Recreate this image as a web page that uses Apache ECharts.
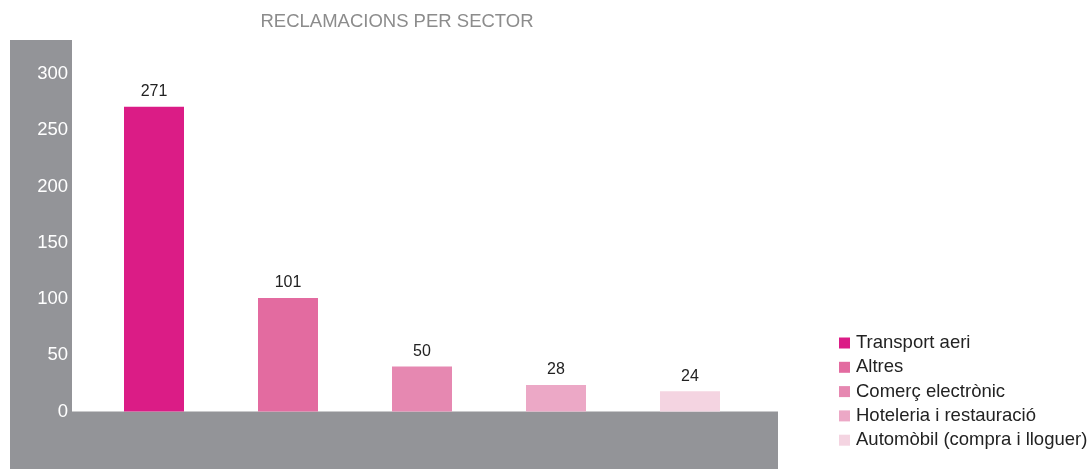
<!DOCTYPE html>
<html>
<head>
<meta charset="utf-8">
<script src="https://cdn.jsdelivr.net/npm/echarts@6/dist/echarts.min.js"></script>
<style>
html,body{margin:0;padding:0;background:#fff;}
#chart{width:1091px;height:469px;}
</style>
</head>
<body>
<div id="chart"></div>
<script>
// Data
const categories = ['Transport aeri', 'Altres', 'Comerç electrònic', 'Hoteleria i restauració', 'Automòbil (compra i lloguer)'];
const barHeights = [271, 101, 40, 23.5, 18];      // drawn bar heights
const labelTexts = ['271', '101', '50', '28', '24']; // printed labels
const colors = ['#DB1C86', '#E36BA0', '#E688B1', '#ECA8C6', '#F4D4E1'];
const yTicks = [0, 50, 100, 150, 200, 250, 300];
const title = 'RECLAMACIONS PER SECTOR';

const chart = echarts.init(document.getElementById('chart'));
const FONT = '"Liberation Sans", Arial, Helvetica, sans-serif';

const series = categories.map((name, i) => ({
  name: name,
  type: 'bar',
  barWidth: 60,
  barGap: '-100%',
  z: 5,
  itemStyle: { color: colors[i] },
  label: {
    show: true,
    position: 'top',
    distance: 7,
    color: '#222',
    fontSize: 16,
    fontFamily: FONT,
    formatter: () => labelTexts[i]
  },
  data: categories.map((c, j) => (j === i ? barHeights[i] : null))
}));

chart.setOption({
  animation: false,
  backgroundColor: '#fff',
  title: {
    text: title,
    left: 392,
    textAlign: 'center',
    top: 7,
    textStyle: { color: '#8c8c8c', fontSize: 18.5, fontWeight: 'normal', fontFamily: FONT }
  },
  graphic: [
    { type: 'rect', z: -10, silent: true, shape: { x: 10, y: 40, width: 62, height: 429 }, style: { fill: '#939498' } },
    { type: 'rect', z: -10, silent: true, shape: { x: 10, y: 411.5, width: 768, height: 58 }, style: { fill: '#939498' } }
  ],
  legend: {
    orient: 'vertical',
    left: 839,
    top: 333.5,
    padding: 0,
    itemWidth: 11,
    itemHeight: 11,
    itemGap: 5.3,
    icon: 'rect',
    textStyle: { color: '#222', fontSize: 18.5, lineHeight: 19, fontFamily: FONT, padding: [0, 0, 0, 1] },
    data: categories
  },
  grid: { left: 87, right: 334, top: 74, bottom: 57.5, containLabel: false },
  xAxis: {
    type: 'category',
    data: categories,
    axisLine: { show: false },
    axisTick: { show: false },
    axisLabel: { show: false }
  },
  yAxis: {
    type: 'value',
    min: yTicks[0],
    max: yTicks[yTicks.length - 1],
    interval: 50,
    axisLine: { show: false },
    axisTick: { show: false },
    splitLine: { show: false },
    axisLabel: { color: '#fff', fontSize: 18.5, fontFamily: FONT, margin: 19 }
  },
  series: series
});
</script>
</body>
</html>
